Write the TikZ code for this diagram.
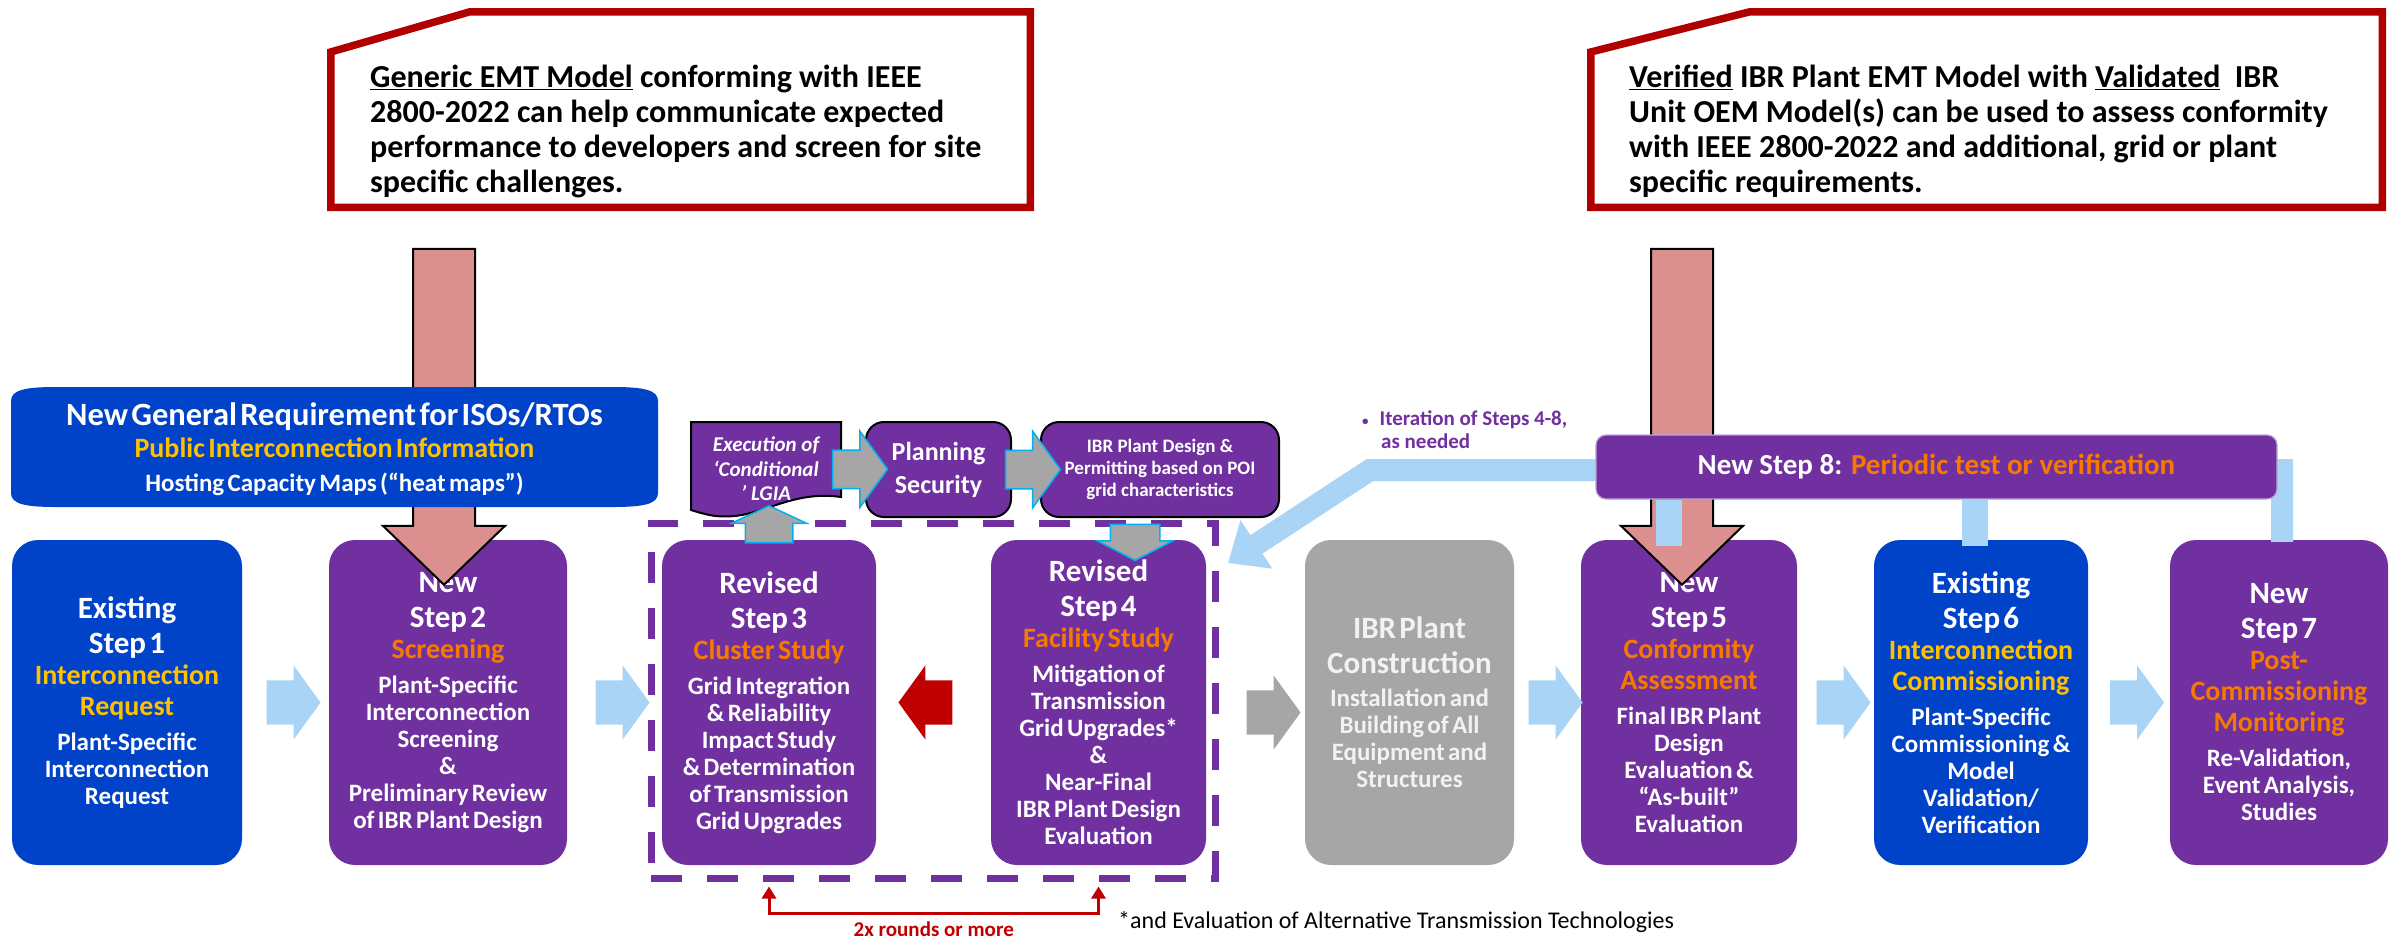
\documentclass[tikz,border=0pt]{standalone}
\usepackage{fontspec}
\setmainfont{Carlito}
\usetikzlibrary{shapes.arrows, arrows.meta, positioning, calc}

\definecolor{ipurple}{RGB}{112,48,160}
\definecolor{iblue}{RGB}{0,67,200}
\definecolor{iyellow}{RGB}{255,192,0}
\definecolor{iorange}{RGB}{246,122,0}
\definecolor{iltblue}{RGB}{170,212,245}
\definecolor{igray}{RGB}{166,166,166}
\definecolor{ipink}{RGB}{219,143,143}
\definecolor{iframe}{RGB}{176,0,0}
\definecolor{ired}{RGB}{192,0,0}
\definecolor{icyan}{RGB}{0,176,240}

% font sizes inside the step boxes
\newcommand\stepttl{\fontsize{31pt}{35pt}\selectfont}
\newcommand\stepsub{\fontsize{28pt}{31pt}\selectfont}
\newcommand\stepbody{\fontsize{25pt}{27pt}\selectfont}

\begin{document}
\begin{tikzpicture}[
    x=1pt, y=-1pt,
    stepbox/.style={rectangle, rounded corners=26pt, minimum height=325pt, text width=205pt, align=center, inner sep=0pt, text=white, font=\bfseries},
    topbox/.style={rectangle, draw=black, line width=2pt, fill=ipurple, rounded corners=18pt, minimum height=95pt, align=center, inner sep=0pt, text=white},
    flow/.style={single arrow, fill=iltblue, inner xsep=0pt, inner ysep=22pt, minimum width=74pt, minimum height=54pt, single arrow head extend=15pt, single arrow tip angle=108},
    feed/.style={single arrow, draw=icyan, line width=1.5pt, fill=igray, inner xsep=0pt, minimum width=74pt},
    model/.style={single arrow, draw=black, line width=2pt, fill=ipink, inner xsep=0pt, inner ysep=30pt, rotate=-90, minimum width=120pt, minimum height=336pt, single arrow head extend=30pt, single arrow tip angle=92},
    callout/.style={draw=iframe, line width=7.5pt, line join=miter},
    callouttext/.style={anchor=north west, align=left, inner sep=0pt, font=\bfseries\fontsize{32pt}{35pt}\selectfont},
    loopbox/.style={draw=ipurple, line width=7pt, dash pattern=on 31pt off 25pt, minimum width=564pt, minimum height=355pt},
    linkbar/.style={draw=iltblue, line width=26pt},
    loopback/.style={draw=iltblue, line width=22pt, -{Triangle[width=56pt,length=34pt]}},
    rounds/.style={draw=ired, line width=3pt, {Triangle[width=14pt,length=12pt]}-{Triangle[width=14pt,length=12pt]}}
]
\useasboundingbox (0,0) rectangle (2402,938);
\fill[white] (0,0) rectangle (2402,938);

% model callouts
\draw[callout] (330.75,52) -- (470,11.75) -- (1030.25,11.75) -- (1030.25,207.25) -- (330.75,207.25) -- cycle;
\node[callouttext] (generic) at (370,65) {\underline{Generic EMT Model} conforming with IEEE\\2800-2022 can help communicate expected\\performance to developers and screen for site\\specific challenges.};
\draw[callout] (1590.75,52) -- (1750,11.75) -- (2382.25,11.75) -- (2382.25,207.25) -- (1590.75,207.25) -- cycle;
\node[callouttext] (verified) at (1629,65) {\underline{Verified} IBR Plant EMT Model with \underline{Validated}~ IBR\\Unit OEM Model(s) can be used to assess conformity\\with IEEE 2800-2022 and additional, grid or plant\\specific requirements.};

% iteration loop around steps 3 and 4
\node[loopbox] (loop) at (933,700.5) {};

% Steps
\node[stepbox, fill=iblue, minimum width=230pt] (s1) at (127,702.5) {{\stepttl Existing\\Step 1\par}{\stepsub\color{iyellow}Interconnection\\Request\par}\vspace{8pt}{\stepbody Plant-Specific\\Interconnection\\Request\par}};
\node[stepbox, fill=ipurple, minimum width=238pt] (s2) at (448,702.5) {{\stepttl New\\Step 2\par}{\stepsub\color{iorange}Screening\par}\vspace{8pt}{\stepbody Plant-Specific\\Interconnection\\Screening\\\&\\Preliminary Review\\of IBR Plant Design\par}};
\node[stepbox, fill=ipurple, minimum width=214pt] (s3) at (769,702.5) {{\stepttl Revised\\Step 3\par}{\stepsub\color{iorange}Cluster Study\par}\vspace{8pt}{\stepbody Grid Integration\\\& Reliability\\Impact Study\\\& Determination\\of Transmission\\Grid Upgrades\par}};
\node[stepbox, fill=ipurple, minimum width=215pt] (s4) at (1098.5,702.5) {{\stepttl Revised\\Step 4\par}{\stepsub\color{iorange}Facility Study\par}\vspace{8pt}{\stepbody Mitigation of\\Transmission\\Grid Upgrades*\\\&\\Near-Final\\IBR Plant Design\\Evaluation\par}};
\node[stepbox, fill=igray, text=white!95!black, minimum width=209pt] (build) at (1409.5,702.5) {{\stepttl IBR Plant\\Construction\par}\vspace{6pt}{\stepbody Installation and\\Building of All\\Equipment and\\Structures\par}};
\node[stepbox, fill=ipurple, minimum width=216pt] (s5) at (1689,702.5) {{\stepttl New\\Step 5\par}{\stepsub\color{iorange}Conformity\\Assessment\par}\vspace{8pt}{\stepbody Final IBR Plant\\Design\\Evaluation \&\\“As-built”\\Evaluation\par}};
\node[stepbox, fill=iblue, minimum width=214pt] (s6) at (1981,702.5) {{\stepttl Existing\\Step 6\par}{\stepsub\color{iyellow}Interconnection\\Commissioning\par}\vspace{8pt}{\stepbody Plant-Specific\\Commissioning \&\\Model\\Validation/\\Verification\par}};
\node[stepbox, fill=ipurple, minimum width=218pt] (s7) at (2279,702.5) {{\stepttl New\\Step 7\par}{\stepsub\color{iorange}Post-\\Commissioning\\Monitoring\par}\vspace{8pt}{\stepbody Re-Validation,\\Event Analysis,\\Studies\par}};

% model arrows from the callouts
\node[model] (genericarrow) at ([xshift=-4pt,yshift=138pt]s2.north) {};
\node[model] (verifiedarrow) at ([xshift=-7pt,yshift=138pt]s5.north) {};

% ISO/RTO requirement banner
\fill[iblue] (11,401) .. controls (11,390) and (25,387) .. (56,387) -- (613,387) .. controls (644,387) and (658,390) .. (658,401) -- (658,493) .. controls (658,504) and (644,507) .. (613,507) -- (56,507) .. controls (25,507) and (11,504) .. (11,493) -- cycle;
\node[align=center, text width=640pt, inner sep=0pt, text=white, font=\bfseries] (req) at (334.5,449) {{\fontsize{32.5pt}{34pt}\selectfont New General Requirement for ISOs/RTOs\par}{\fontsize{28pt}{32pt}\selectfont\color{iyellow}Public Interconnection Information\par}\vspace{6pt}{\fontsize{25pt}{28pt}\selectfont Hosting Capacity Maps (“heat maps”)\par}};

% LGIA, security and permitting
\draw[fill=ipurple, line width=2pt] (691,422) -- (841,422) -- (841,497) .. controls (800,491) and (772,509) .. (742,515) .. controls (718,519) and (704,514) .. (691,510) -- cycle;
\node[align=center, inner sep=0pt, minimum width=150pt, minimum height=90pt, text=white, font=\bfseries\itshape\fontsize{21pt}{24.5pt}\selectfont] (lgia) at (766,469) {Execution of\\‘Conditional\\’ LGIA};
\node[topbox, minimum width=145pt, font=\bfseries\fontsize{26pt}{33pt}\selectfont] (plan) at (938.5,469.5) {Planning\\Security};
\node[topbox, minimum width=238pt, font=\bfseries\fontsize{19pt}{22pt}\selectfont] (ibr) at (1160,469.5) {IBR Plant Design \&\\Permitting based on POI\\grid characteristics};

\node[feed, inner ysep=18.5pt, minimum height=55pt, single arrow head extend=19pt, single arrow tip angle=108] (f1) at ($(lgia.east)!0.5!(plan.west)$) {};
\node[feed, inner ysep=18.5pt, minimum height=55pt, single arrow head extend=19pt, single arrow tip angle=108] (f2) at ($(plan.east)!0.5!(ibr.west)$) {};
\node[feed, rotate=90, inner ysep=23pt, minimum height=37pt, single arrow head extend=14pt, single arrow tip angle=130] (f3) at ([yshift=10pt]s3.north) {};
\node[feed, rotate=-90, inner ysep=24pt, minimum height=36pt, single arrow head extend=13pt, single arrow tip angle=125] (f4) at ([xshift=-25pt,yshift=-18pt]ibr.south) {};

% Flow
\node[flow] (a12) at ($(s1.east)!0.5!(s2.west)$) {};
\node[flow] (a23) at ($(s2.east)!0.5!(s3.west)$) {};
\node[flow, fill=ired, rotate=180] (a43) at ($(s4.west)!0.5!(s3.east)$) {};
\node[flow, fill=igray] (a4b) at ($(s4.east)!0.5!(build.west)+(10,10)$) {};
\node[flow] (ab5) at ($(build.east)!0.5!(s5.west)$) {};
\node[flow] (a56) at ($(s5.east)!0.5!(s6.west)$) {};
\node[flow] (a67) at ($(s6.east)!0.5!(s7.west)$) {};

% iteration back to step 4
\coordinate (bend) at (1370,470);
\coordinate (back) at (1228,563);
\draw[loopback] ([xshift=3pt,yshift=-2pt]s7.north) -- ([xshift=3pt]s7.north |- 0,470) -- (bend) -- (back);
\node[anchor=north west, align=left, inner sep=0pt, text=ipurple, font=\bfseries\fontsize{21pt}{23pt}\selectfont] (iter) at (1362,411) {{\fontsize{13pt}{13pt}\selectfont •}\hspace{11pt}Iteration of Steps 4-8,\\\hspace*{19pt}as needed};

% Step 8
\node[rectangle, fill=ipurple, draw=ipurple!45!white, line width=1.2pt, rounded corners=10pt, minimum width=681pt, minimum height=64pt, inner sep=0pt, text=white, font=\bfseries\fontsize{29pt}{32pt}\selectfont] (st8) at (1936.5,467) {New Step 8: \textcolor{iorange}{Periodic test or verification}};
\draw[linkbar] ([xshift=-20pt]s5.north |- st8.south) -- ([xshift=-20pt,yshift=-6pt]s5.north);
\draw[linkbar] ([xshift=-6pt]s6.north |- st8.south) -- ([xshift=-6pt,yshift=-6pt]s6.north);

% repeated study rounds
\draw[rounds] ($(s3.south |- loop.south)+(0,5)$) -- ++(0,27) -| ($(s4.south |- loop.south)+(0,5)$) node[pos=0.25, below=3pt, text=ired, font=\bfseries\fontsize{21pt}{23pt}\selectfont] (rounds) {2x rounds or more};

\node[anchor=west, inner sep=0pt, font=\fontsize{24pt}{26pt}\selectfont] (note) at (1118,922) {*and Evaluation of Alternative Transmission Technologies};

\end{tikzpicture}
\end{document}
